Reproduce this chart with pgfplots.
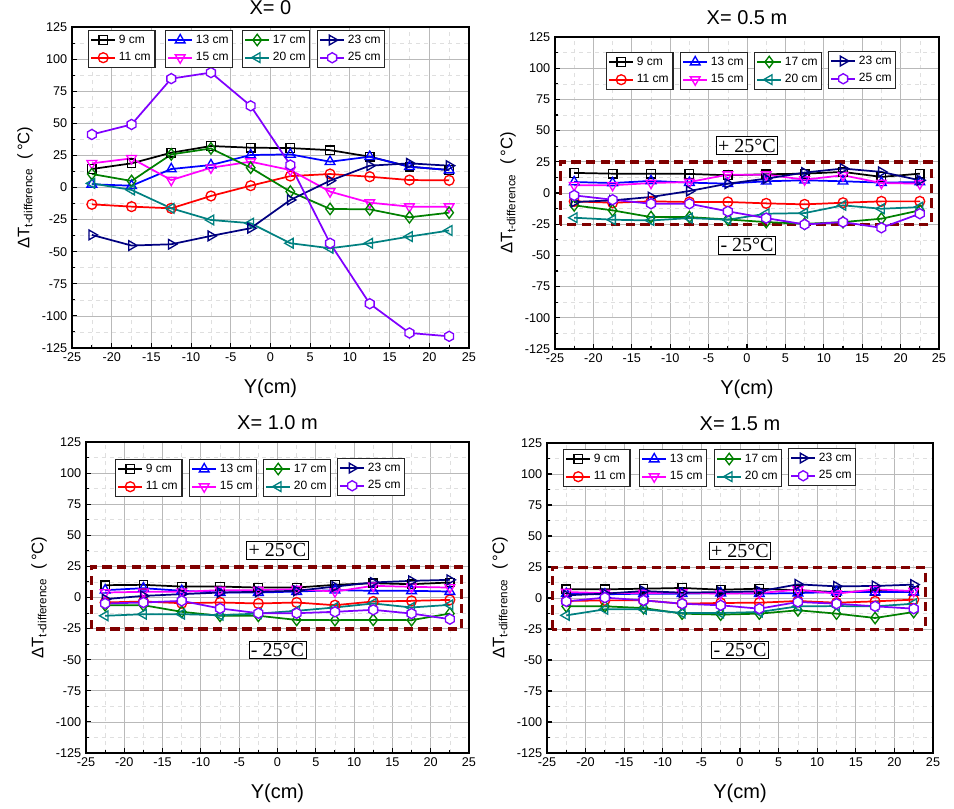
\documentclass[border=0pt]{standalone}
\usepackage{fontspec}
\setmainfont{Liberation Sans}
\newfontfamily\seriffont{Liberation Serif}
\usepackage{pgfplots}
\usepackage{pgfplotstable}
\pgfplotsset{compat=1.18}
\newlength\pxu
\setlength\pxu{0.75pt}

\definecolor{c9}{RGB}{0,0,0}
\definecolor{c11}{RGB}{255,0,0}
\definecolor{c13}{RGB}{0,0,255}
\definecolor{c15}{RGB}{255,0,255}
\definecolor{c17}{RGB}{0,128,0}
\definecolor{c20}{RGB}{0,128,128}
\definecolor{c23}{RGB}{0,0,128}
\definecolor{c25}{RGB}{128,0,255}
\definecolor{boxred}{RGB}{128,0,0}

\pgfdeclareplotmark{hexagon}{%
  \pgfpathmoveto{\pgfqpointpolar{90}{\pgfplotmarksize}}%
  \pgfpathlineto{\pgfqpointpolar{150}{\pgfplotmarksize}}%
  \pgfpathlineto{\pgfqpointpolar{210}{\pgfplotmarksize}}%
  \pgfpathlineto{\pgfqpointpolar{270}{\pgfplotmarksize}}%
  \pgfpathlineto{\pgfqpointpolar{330}{\pgfplotmarksize}}%
  \pgfpathlineto{\pgfqpointpolar{30}{\pgfplotmarksize}}%
  \pgfpathclose
  \pgfusepathqfillstroke}

\tikzset{mk/.style={solid, fill=white, line width=1pt}}

\pgfplotsset{
  s9/.style={c9, line width=1.3pt, mark=square, mark size=3.2pt, mark options={mk}},
  s11/.style={c11, line width=1.3pt, mark=o, mark size=3.7pt, mark options={mk}},
  s13/.style={c13, line width=1.3pt, mark=triangle, mark size=4.2pt, mark options={mk}},
  s15/.style={c15, line width=1.3pt, mark=triangle, mark size=4.2pt, mark options={mk, rotate=180}},
  s17/.style={c17, line width=1.3pt, mark=diamond, mark size=4.3pt, mark options={mk}},
  s20/.style={c20, line width=1.3pt, mark=triangle, mark size=4.2pt, mark options={mk, rotate=90}},
  s23/.style={c23, line width=1.3pt, mark=triangle, mark size=4.2pt, mark options={mk, rotate=-90}},
  s25/.style={c25, line width=1.3pt, mark=hexagon, mark size=3.8pt, mark options={mk}},
  panel/.style={
    scale only axis, anchor=north west,
    xmin=-25, xmax=25, ymin=-125, ymax=125,
    xtick={-25,-20,...,25}, ytick={-125,-100,...,125},
    minor x tick num=1, minor y tick num=1,
    grid=both,
    major grid style={gray!55, line width=0.6pt},
    minor grid style={gray!25, dashed, line width=0.4pt},
    axis line style={line width=1.1pt},
    tick pos=left, tick align=inside,
    major tick length=4pt, minor tick length=2.5pt,
    tick style={black, line width=0.8pt},
    ticklabel style={font=\fontsize{9.5}{10}\selectfont},
    /pgf/number format/assume math mode=true,
    xlabel={Y(cm)},
    xlabel style={font=\fontsize{15}{16}\selectfont, yshift=-6pt},
    ylabel={ΔT\textsubscript{t-difference}\ \ (\,°C)},
    ylabel style={font=\fontsize{12.5}{13}\selectfont},
    title style={font=\fontsize{15}{16}\selectfont, at={(0.5,1)}, anchor=south, inner sep=0pt, yshift=3pt},
  },
  lgd/.style={draw=black!85, line width=0.9pt, font=\fontsize{9}{10}\selectfont,
    legend cell align=left, inner sep=1.2pt, row sep=1.5pt,
    /tikz/every even column/.append style={column sep=0.5pt}},
}

\newcommand{\legbox}[4]{%
  \begin{axis}[at={(#1*\pxu,-#2*\pxu)}, anchor=north west, hide axis, scale only axis,
    width=1pt, height=1pt, xmin=0, xmax=1, ymin=0, ymax=1,
    legend image code/.code={\draw[mark repeat=2,mark phase=2] plot coordinates {(0cm,0cm) (0.32cm,0cm) (0.64cm,0cm)};},
    legend style={at={(0,1)}, anchor=north west, lgd}]
    \addlegendimage{s#3}\addlegendentry{#3 cm}
    \addlegendimage{s#4}\addlegendentry{#4 cm}
  \end{axis}}

\newcommand{\allplots}[1]{%
  \addplot[s9] table[x=x,y=s9]{#1};
  \addplot[s11] table[x=x,y=s11]{#1};
  \addplot[s13] table[x=x,y=s13]{#1};
  \addplot[s15] table[x=x,y=s15]{#1};
  \addplot[s17] table[x=x,y=s17]{#1};
  \addplot[s20] table[x=x,y=s20]{#1};
  \addplot[s23] table[x=x,y=s23]{#1};
  \addplot[s25] table[x=x,y=s25]{#1};}

\newcommand{\bandbox}{%
  \draw[boxred, line width=2.6pt, dash pattern=on 7pt off 4pt] (axis cs:-24.3,-25.3) rectangle (axis cs:24.0,24.7);}
\newcommand{\bandlabels}{%
  \node[draw=black, fill=white, line width=0.6pt, inner sep=1.5pt, font=\seriffont\fontsize{15}{16}\selectfont] at (axis cs:0,38) {+ 25°C};
  \node[draw=black, fill=white, line width=0.6pt, inner sep=1.5pt, font=\seriffont\fontsize{15}{16}\selectfont] at (axis cs:0,-42) {- 25°C};}

\pgfplotstableread{
x s9 s11 s13 s15 s17 s20 s23 s25
-22.5 14.4 -13.1 2.5 18.8 10.5 3.2 -36.9 41.3
-17.5 18.8 -14.9 1.4 22.7 5.1 -1.9 -45.2 49.1
-12.5 27.1 -16.2 14.4 5.8 25.8 -16.2 -44.2 84.8
-7.5 32.3 -6.6 17.5 15.4 30.4 -25.3 -37.7 89.5
-2.5 31.0 1.4 25.3 20.1 15.4 -27.8 -31.7 63.6
2.5 30.7 8.9 25.8 13.6 -3.2 -43.4 -9.7 17.5
7.5 29.1 10.5 20.1 -3.2 -16.7 -47.3 5.3 -43.4
12.5 24.0 8.4 24.0 -11.8 -17.0 -43.4 17.0 -90.5
17.5 16.2 5.8 16.2 -14.9 -23.2 -38.2 18.8 -113.3
22.5 13.6 5.6 13.6 -14.9 -19.6 -33.5 17.0 -115.9
}\tabA

\pgfplotstableread{
x s9 s11 s13 s15 s17 s20 s23 s25
-22.5 16.1 -6.7 8.8 6.2 -9.9 -19.8 -7.2 -1.9
-17.5 15.5 -7.8 8.0 6.2 -13.9 -21.4 -5.9 -5.4
-12.5 15.5 -6.7 9.7 8.0 -19.3 -22.0 -3.2 -8.6
-7.5 15.3 -7.2 8.3 8.8 -19.3 -20.1 1.6 -8.6
-2.5 14.2 -7.2 7.5 14.7 -21.2 -21.4 7.5 -14.7
2.5 15.0 -8.3 9.4 14.7 -23.3 -16.6 11.5 -20.1
7.5 15.5 -9.1 10.2 10.7 -24.7 -16.1 16.4 -25.2
12.5 16.9 -7.8 9.4 14.2 -23.3 -9.9 19.6 -23.3
17.5 12.9 -6.7 8.3 8.0 -20.6 -12.6 16.9 -27.9
22.5 15.5 -6.7 8.8 7.5 -13.9 -11.3 10.2 -16.6
}\tabB

\pgfplotstableread{
x s9 s11 s13 s15 s17 s20 s23 s25
-22.5 9.9 -4.0 5.9 4.0 -6.2 -14.7 -1.3 -4.8
-17.5 10.2 -3.2 7.5 4.6 -6.2 -13.4 1.3 -4.0
-12.5 8.8 -4.6 5.4 4.6 -11.5 -13.4 2.7 -2.7
-7.5 8.8 -4.0 4.0 5.9 -14.7 -14.2 4.0 -8.8
-2.5 8.0 -4.8 4.0 5.9 -14.7 -12.9 4.6 -12.6
2.5 8.0 -4.0 4.8 6.7 -18.0 -10.7 5.4 -12.6
7.5 10.2 -6.2 5.9 4.8 -18.2 -8.0 8.8 -11.5
12.5 11.5 -3.2 5.4 9.4 -18.0 -4.8 12.1 -9.9
17.5 10.7 -2.7 5.4 8.6 -18.2 -8.0 13.4 -12.9
22.5 12.1 -1.9 4.8 8.0 -12.9 -5.9 14.2 -17.4
}\tabC

\pgfplotstableread{
x s9 s11 s13 s15 s17 s20 s23 s25
-22.5 7.0 -2.4 3.5 4.8 -6.7 -14.0 2.2 -2.7
-17.5 7.0 -1.9 3.0 4.0 -6.7 -9.1 3.5 0.3
-12.5 7.5 -1.9 3.5 4.0 -8.1 -9.1 5.6 -1.9
-7.5 8.1 -4.6 3.5 4.3 -12.6 -12.1 4.3 -4.6
-2.5 6.7 -4.0 4.0 3.5 -13.4 -12.1 4.8 -5.9
2.5 7.5 -3.8 3.5 4.0 -12.6 -11.3 5.4 -8.6
7.5 6.2 -2.4 4.0 6.7 -9.9 -6.7 11.0 -3.2
12.5 4.8 -3.8 4.8 3.5 -12.6 -6.5 9.4 -4.6
17.5 5.6 -2.7 4.8 7.0 -16.1 -6.7 9.7 -6.7
22.5 5.6 -1.3 4.8 5.6 -11.3 -4.6 10.8 -8.6
}\tabD

\begin{document}
\begin{tikzpicture}
\useasboundingbox (0,0) rectangle (954*\pxu,-808*\pxu);

% Panel 1
\begin{axis}[panel, at={(72*\pxu,-27*\pxu)}, width=397*\pxu, height=321*\pxu, title={X= 0}]
\allplots{\tabA}
\end{axis}
\legbox{88}{30}{9}{11}
\legbox{165}{30}{13}{15}
\legbox{242}{30}{17}{20}
\legbox{317}{30}{23}{25}

% Panel 2
\begin{axis}[panel, at={(555*\pxu,-37*\pxu)}, width=384*\pxu, height=312*\pxu, title={X= 0.5 m}]
\bandbox
\allplots{\tabB}
\bandlabels
\end{axis}
\legbox{606}{52}{9}{11}
\legbox{680}{52}{13}{15}
\legbox{754}{52}{17}{20}
\legbox{828}{51}{23}{25}

% Panel 3
\begin{axis}[panel, at={(86*\pxu,-442*\pxu)}, width=383*\pxu, height=311*\pxu, title={X= 1.0 m}]
\bandbox
\allplots{\tabC}
\bandlabels
\end{axis}
\legbox{115}{459}{9}{11}
\legbox{189}{459}{13}{15}
\legbox{263}{459}{17}{20}
\legbox{337}{458}{23}{25}

% Panel 4
\begin{axis}[panel, at={(547*\pxu,-443*\pxu)}, width=386*\pxu, height=310*\pxu, title={X= 1.5 m}]
\bandbox
\allplots{\tabD}
\bandlabels
\end{axis}
\legbox{563}{449}{9}{11}
\legbox{639}{449}{13}{15}
\legbox{714}{449}{17}{20}
\legbox{788}{448}{23}{25}
\end{tikzpicture}
\end{document}
